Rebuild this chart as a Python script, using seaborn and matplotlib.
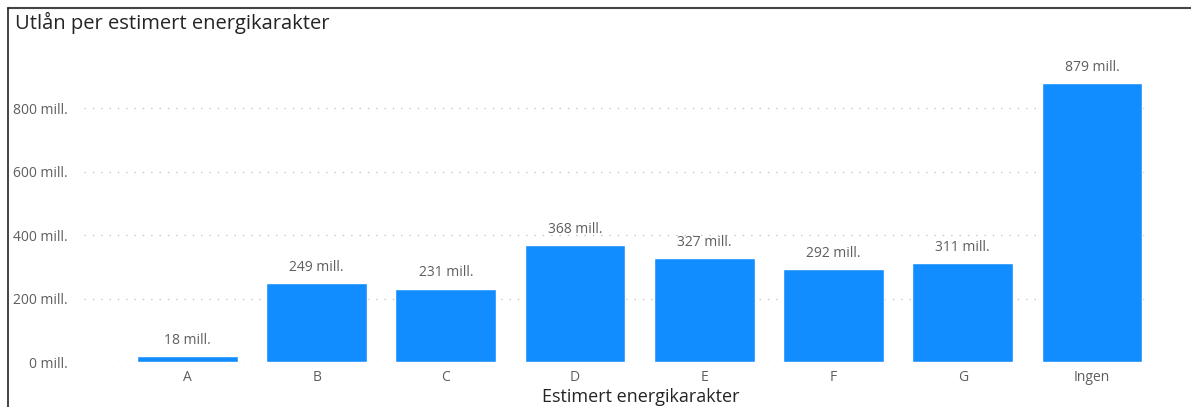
import matplotlib
matplotlib.use("Agg")
import matplotlib.pyplot as plt
import seaborn as sns
import pandas as pd
from matplotlib.lines import Line2D

categories = ["A", "B", "C", "D", "E", "F", "G", "Ingen"]
values = [18, 249, 231, 368, 327, 292, 311, 879]
yticks = [0, 200, 400, 600, 800]
ytick_labels = ["0 mill.", "200 mill.", "400 mill.", "600 mill.", "800 mill."]
title = "Utlån per estimert energikarakter"
xlabel = "Estimert energikarakter"

sns.set_theme(style="white")
plt.rcParams['font.family'] = ['Open Sans', 'DejaVu Sans']

df = pd.DataFrame({"cat": categories, "val": values})

fig = plt.figure(figsize=(11.91, 4.07), dpi=100)
ax = fig.add_axes([84/1191, 45/407, (1145-84)/1191, (362-45)/407])

sns.barplot(data=df, x="cat", y="val", color="#118DFF", saturation=1, width=0.78, ax=ax)

ax.set_xlim(-0.8, 7.41)
ax.set_ylim(0, 1000)
ax.set_yticks(yticks)
ax.set_yticklabels(ytick_labels, color="#605E5C", fontsize=10)
ax.tick_params(axis="x", colors="#605E5C", labelsize=10, length=0, pad=6)
ax.tick_params(axis="y", length=0, pad=12)
for lbl in ax.get_xticklabels():
    lbl.set_color("#605E5C")
ax.set_ylabel("")
ax.set_xlabel(xlabel, fontsize=13, color="#252423", va="bottom")
ax.xaxis.set_label_coords((641 - 84) / 1061, -44 / 317)
ax.grid(axis="y", color="#C8C6C4", linestyle=(0, (1, 5)), linewidth=1)
ax.set_axisbelow(True)
for s in ax.spines.values():
    s.set_visible(False)

for i, v in enumerate(values):
    ax.annotate(f"{v} mill.", (i, v), xytext=(0, 6), textcoords="offset points",
                ha="center", va="bottom", fontsize=10, color="#605E5C")

fig.text(15/1191, 1 - 23/407, title, fontsize=14.5, color="#252423", ha="left", va="center")

# frame
fig.add_artist(Line2D([8/1191, 1], [1 - 8/407, 1 - 8/407], color="#444444", linewidth=1.5, transform=fig.transFigure))
fig.add_artist(Line2D([8/1191, 8/1191], [0, 1 - 8/407], color="#222222", linewidth=1.2, transform=fig.transFigure))

fig.savefig("out.png", dpi=100)
